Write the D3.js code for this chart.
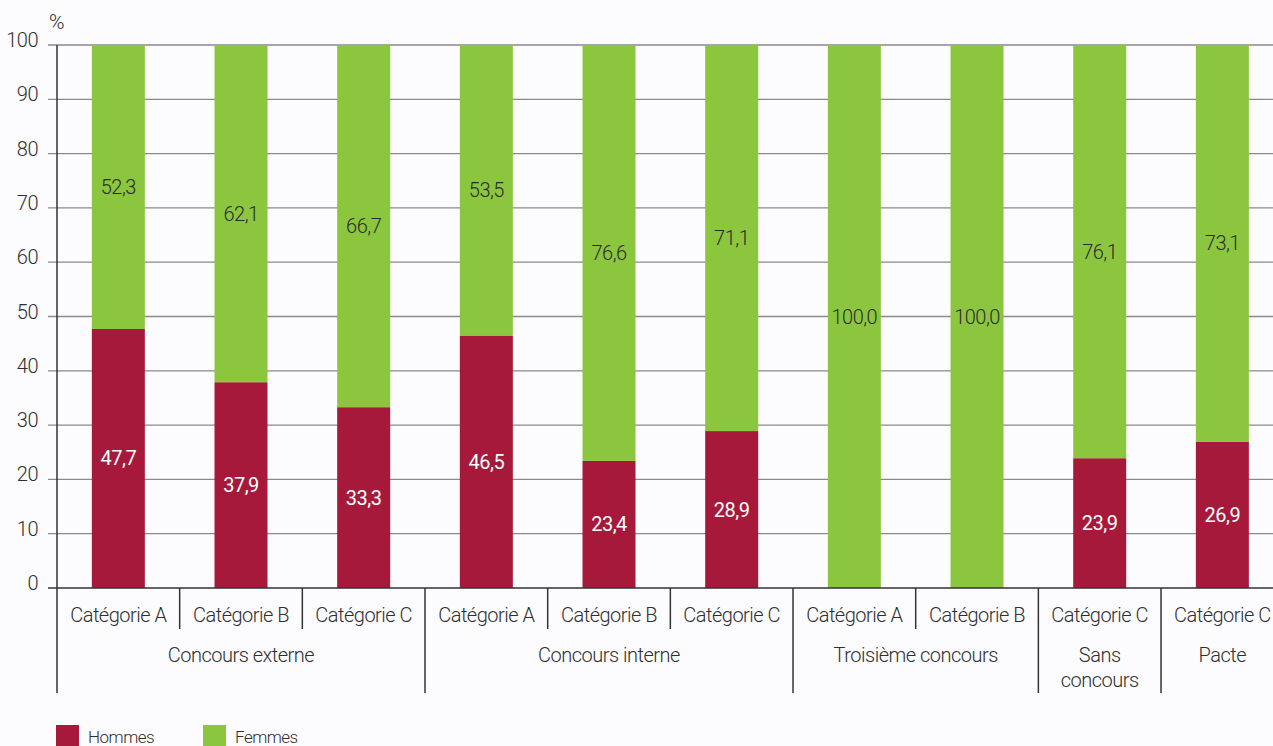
<!DOCTYPE html>
<html><head><meta charset="utf-8">
<script src="https://cdn.jsdelivr.net/npm/d3@7"></script>
<style>
html,body{margin:0;padding:0;background:#fcfcfe;}
svg{display:block;}
text{font-family:"Roboto","Liberation Sans Narrow",sans-serif;font-weight:300;fill:#2e2e2e;letter-spacing:-0.5px;}
</style></head>
<body>
<svg id="chart" width="1273" height="746"></svg>
<script>
const categories = ["Catégorie A","Catégorie B","Catégorie C","Catégorie A","Catégorie B","Catégorie C","Catégorie A","Catégorie B","Catégorie C","Catégorie C"];
const groups = [
  {name:["Concours externe"], size:3},
  {name:["Concours interne"], size:3},
  {name:["Troisième concours"], size:2},
  {name:["Sans","concours"], size:1},
  {name:["Pacte"], size:1}
];
const hommes = [47.7, 37.9, 33.3, 46.5, 23.4, 28.9, 0, 0, 23.9, 26.9];
const femmes = [52.3, 62.1, 66.7, 53.5, 76.6, 71.1, 100.0, 100.0, 76.1, 73.1];
const yTicks = [0,10,20,30,40,50,60,70,80,90,100];
const seriesNames = ["Hommes","Femmes"];
const colors = ["#a6193a","#8cc63f"];

const svg = d3.select("#chart");
const x0 = 57, step = 122.67;
const x = d3.scaleBand().domain(d3.range(categories.length))
  .range([x0, x0 + step*categories.length]).paddingInner(0.568).paddingOuter(0.284);
const y = d3.scaleLinear().domain([0,100]).range([588,45]);

// gridlines
svg.append("g").selectAll("line").data(yTicks.filter(d=>d>0)).join("line")
  .attr("x1",48).attr("x2",1273).attr("y1",d=>y(d)).attr("y2",d=>y(d))
  .attr("stroke","#8a8a8a").attr("stroke-width",1.3);

// y tick labels
svg.append("g").selectAll("text").data(yTicks).join("text")
  .attr("x",38).attr("y",d=>y(d)+2).attr("text-anchor","end")
  .attr("font-size",20).text(d=>d);
svg.append("text").attr("x",49).attr("y",29).attr("font-size",21).text("%");

// bars
const fmt = v => d3.format(".1f")(v).replace(".",",");
const barG = svg.append("g");
categories.forEach((c,i)=>{
  const h = hommes[i], f = femmes[i];
  if(h>0){
    barG.append("rect").attr("x",x(i)).attr("width",x.bandwidth())
      .attr("y",y(h)).attr("height",y(0)-y(h)).attr("fill",colors[0]);
  }
  barG.append("rect").attr("x",x(i)).attr("width",x.bandwidth())
    .attr("y",y(h+f)).attr("height",y(h)-y(h+f)).attr("fill",colors[1]);
  if(h>0){
    barG.append("text").attr("x",x(i)+x.bandwidth()/2).attr("y",y(h/2)+7)
      .attr("text-anchor","middle").attr("font-size",20).style("fill","#fff").style("font-weight",400).text(fmt(h));
  }
  barG.append("text").attr("x",x(i)+x.bandwidth()/2).attr("y",y(h+f/2)+7)
    .attr("text-anchor","middle").attr("font-size",20).style("fill","#2b2b2b").text(fmt(f));
});

// axes lines
svg.append("line").attr("x1",48).attr("x2",1273).attr("y1",y(0)).attr("y2",y(0))
  .attr("stroke","#333").attr("stroke-width",1.5);
svg.append("line").attr("x1",x0).attr("x2",x0).attr("y1",y(100)).attr("y2",693)
  .attr("stroke","#333").attr("stroke-width",1.5);

// category labels
svg.append("g").selectAll("text").data(categories).join("text")
  .attr("x",(d,i)=>x(i)+x.bandwidth()/2).attr("y",622).attr("text-anchor","middle")
  .attr("font-size",20).text(d=>d);

// dividers
let idx = 0;
const groupBounds = [];
groups.forEach(g=>{
  groupBounds.push([idx, idx+g.size]);
  for(let k=idx+1;k<idx+g.size;k++){
    svg.append("line").attr("x1",x0+k*step).attr("x2",x0+k*step).attr("y1",588).attr("y2",629)
      .attr("stroke","#333").attr("stroke-width",1.5);
  }
  idx += g.size;
  svg.append("line").attr("x1",x0+idx*step).attr("x2",x0+idx*step).attr("y1",588).attr("y2",693)
    .attr("stroke","#333").attr("stroke-width",1.5);
});
groups.forEach((g,gi)=>{
  const [a,b] = groupBounds[gi];
  const cx = x0 + (a+b)/2*step;
  const t = svg.append("text").attr("x",cx).attr("y",662).attr("text-anchor","middle").attr("font-size",20);
  g.name.forEach((line,li)=>{
    t.append("tspan").attr("x",cx).attr("dy",li===0?0:25).text(line);
  });
});

// legend
const leg = svg.append("g");
seriesNames.forEach((s,i)=>{
  const lx = 56 + i*147;
  leg.append("rect").attr("x",lx).attr("y",725).attr("width",23).attr("height",23).attr("fill",colors[i]);
  leg.append("text").attr("x",lx+32).attr("y",743).attr("font-size",17).text(s);
});
</script>
</body></html>
